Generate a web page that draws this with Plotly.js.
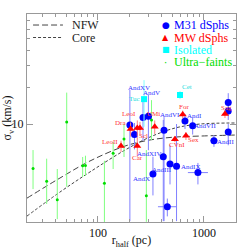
<!DOCTYPE html>
<html><head><meta charset="utf-8">
<script src="https://cdn.plot.ly/plotly-3.0.1.min.js"></script>
<style>html,body{margin:0;padding:0;background:#fff}#chart{width:249px;height:249px}</style>
</head><body><div id="chart"></div>
<script>
// ---- data ----
const curveR = [21.4, 43.8, 84.1, 180, 309, 532, 916, 2005];
const nfwSigma = [2.47, 3.61, 4.98, 6.6, 7.40, 7.82, 7.97, 8.13];
const coreSigma = [1.76, 2.77, 4.05, 6.12, 7.82, 9.27, 10.0, 10.2];

const m31Names = ['AndXV','','','AndV','AndVI','AndI','AndVII','AndII','','','','AndXIV','AndIII','AndIX','AndX','',''];
const m31R     = [200, 221, 266, 299, 420, 662, 782, 1242, 1694, 1694, 1694, 413, 478, 551, 330, 877, 451];
const m31Sigma = [9.8, 8.2, 11.3, 11.6, 8.9, 10.6, 9.7, 7.3, 15.0, 12.8, 8.6, 5.4, 4.7, 4.5, 3.9, 4.0, 2.1];
const m31ErrUp = [9.2, 2.0, 5.0, 5.7, 2.5, 1.5, 1.6, 0.8, 2.9, 2.0, 1.4, 5.4, 2.0, 5.5, 1.5, 0.8, 0.35];
const m31ErrDn = [8.2, 2.0, 4.0, 5.5, 7.3, 1.5, 1.5, 0.8, 2.2, 2.0, 1.9, 3.8, 1.5, 2.9, 1.3, 0.8, 0.35];
const m31RErrUp = [0, 0, 0, 0, 0, 0, 0, 100, 0, 0, 0, 0, 0, 0, 0, 213, 105];
const m31RErrDn = [0, 0, 0, 0, 0, 0, 0, 100, 0, 0, 0, 0, 0, 0, 0, 172, 83];

const mwNames = ['LeoII','Dra','LeoI','Scl','UMi','Car','CVnI','Sex','For','Sag'];
const mwR     = [165, 203, 235, 249, 343, 235, 532, 676, 630, 1578];
const mwSigma = [6.6, 9.1, 9.3, 9.3, 9.5, 6.6, 7.5, 8.0, 12.0, 12.1];
const mwErr   = [0.7, 1.2, 1.4, 1.1, 1.2, 1.2, 0.4, 0.6, 0.9, 0.9];

const isoNames = ['Tuc','Cet'];
const isoR     = [272, 594];
const isoSigma = [16.0, 17.3];
const isoErrUp = [6.9, 1.3];
const isoErrDn = [6.5, 1.3];

const ufR     = [24.4, 32.8, 41.3, 50.7, 71.7, 76.2, 115, 139, 176, 320, 286];
const ufSigma = [4.32, 3.39, 2.40, 10.4, 4.55, 4.57, 3.27, 5.75, 7.54, 10.8, 2.58];
const ufErrUp = [1.80, 1.81, 1.88, 7.7, 0.82, 0.93, 1.73, 1.36, 2.46, 4.9, 3.54];
const ufErrDn = [1.39, 1.18, 0.74, 7.34, 0.87, 0.80, 1.70, 1.47, 2.17, 3.41, 1.0];

const xTickVals = [100, 1000];
const yTickVals = [10];

// ---- styling / label offsets (px) ----
const FONT = 'Liberation Serif';
const labelShift = {
  AndXV:[9,-37], AndV:[3,-23], AndVI:[6,-15], AndI:[10,-5], AndVII:[12,0], AndII:[12,1],
  AndXIV:[-14,-3], AndIII:[-8,6], AndIX:[14,1], AndX:[-11,5],
  LeoII:[-11,-4], Dra:[-10,-6], LeoI:[-8,-14], Scl:[4,8], UMi:[-1,-13], Car:[0,12],
  CVnI:[2,6], Sex:[8,4], For:[1,-7], Sag:[2,-6],
  Tuc:[-10,0], Cet:[7,-8]
};

const minorVals = [];
[10, 100, 1000].forEach(d => { for (let k = 2; k <= 9; k++) minorVals.push(k * d); });

const traces = [
  {x: curveR, y: nfwSigma, mode:'lines', line:{color:'#444', width:1, dash:'6px,3px', shape:'spline'}, hoverinfo:'skip'},
  {x: curveR, y: coreSigma, mode:'lines', line:{color:'#444', width:1, dash:'3px,2px', shape:'spline'}, hoverinfo:'skip'},
  {x: ufR, y: ufSigma, mode:'markers', marker:{color:'#00dd00', size:3},
   error_y:{type:'data', array: ufErrUp, arrayminus: ufErrDn, color:'#80ff80', thickness:1, width:0}},
  {x: m31R, y: m31Sigma, mode:'markers', marker:{color:'#0000ff', size:7},
   error_y:{type:'data', array: m31ErrUp, arrayminus: m31ErrDn, color:'#8080ff', thickness:1, width:0},
   error_x:{type:'data', array: m31RErrUp, arrayminus: m31RErrDn, color:'#8080ff', thickness:1, width:0}},
  {x: mwR, y: mwSigma, mode:'markers', marker:{color:'#ff0000', size:7, symbol:'triangle-up'},
   error_y:{type:'data', array: mwErr, color:'#ff8080', thickness:1, width:0}},
  {x: isoR, y: isoSigma, mode:'markers', marker:{color:'#00ffff', size:6, symbol:'square'},
   error_y:{type:'data', array: isoErrUp, arrayminus: isoErrDn, color:'#80ffff', thickness:1, width:0}}
];

const annotations = [];
function addLabels(names, xs, ys, color) {
  names.forEach((n, i) => {
    if (!n) return;
    const s = labelShift[n] || [0, 0];
    annotations.push({x: Math.log10(xs[i]), y: Math.log10(ys[i]), xref:'x', yref:'y', text:n,
      showarrow:false, xshift:s[0], yshift:-s[1], font:{family:FONT, size:7, color:color}});
  });
}
addLabels(m31Names, m31R, m31Sigma, '#3333ff');
addLabels(mwNames, mwR, mwSigma, '#ff3333');
addLabels(isoNames, isoR, isoSigma, '#22dddd');

// legends (text and keys)
const legRight = [
  {glyph:'●', text:'M31 dSphs', color:'#0000ff', gsize:9},
  {glyph:'▲', text:'MW dSphs', color:'#ff0000', gsize:8},
  {glyph:'■', text:'Isolated', color:'#00ffff', gsize:8},
  {glyph:'·', text:'Ultra−faints', color:'#00dd00', gsize:10}
];
const rowY = [0.947, 0.887, 0.827, 0.767];
legRight.forEach((L, i) => {
  annotations.push({xref:'paper', yref:'paper', x:0.665, y:rowY[i], text:L.glyph, showarrow:false,
    xanchor:'center', yanchor:'middle', font:{family:'DejaVu Sans', size:L.gsize, color:L.color}});
  annotations.push({xref:'paper', yref:'paper', x:0.692, y:rowY[i], text:L.text, showarrow:false,
    xanchor:'left', yanchor:'middle', font:{family:FONT, size:12, color:L.color}});
});
const legLeft = [{text:'NFW', dash:'6px,3px'}, {text:'Core', dash:'3px,2px'}];
const shapes = [];
legLeft.forEach((L, i) => {
  shapes.push({type:'line', xref:'paper', yref:'paper', x0:0.029, x1:0.172, y0:rowY[i], y1:rowY[i],
    line:{color:'#444', width:1, dash:L.dash}});
  annotations.push({xref:'paper', yref:'paper', x:0.205, y:rowY[i], text:L.text, showarrow:false,
    xanchor:'left', yanchor:'middle', font:{family:FONT, size:12, color:'#222'}});
});

const axisCommon = {
  type:'log', showline:true, mirror:'allticks', linecolor:'#999', linewidth:1,
  ticks:'inside', ticklen:6, tickcolor:'#999', tickwidth:1, showgrid:false, zeroline:false,
  tickfont:{family:FONT, size:12, color:'#111'},
  minor:{ticks:'inside', ticklen:3, tickcolor:'#999', tickmode:'array', tickvals:minorVals, showgrid:false}
};

const layout = {
  width:249, height:249, margin:{l:27, r:13, t:14, b:27, pad:0},
  paper_bgcolor:'#fff', plot_bgcolor:'#fff', showlegend:false,
  xaxis: Object.assign({}, axisCommon, {range:[Math.log10(21.4), Math.log10(2005)],
    tickmode:'array', tickvals:xTickVals, ticktext:xTickVals.map(String),
    title:{text:'r<sub>half</sub> (pc)', font:{family:FONT, size:12, color:'#111'}, standoff:2}}),
  yaxis: Object.assign({}, axisCommon, {range:[0.197, 1.902],
    tickmode:'array', tickvals:yTickVals, ticktext:yTickVals.map(String),
    title:{text:'σ<sub>v</sub> (km/s)', font:{family:FONT, size:12, color:'#111'}, standoff:2}}),
  annotations: annotations, shapes: shapes
};

Plotly.newPlot('chart', traces, layout, {staticPlot:true, displayModeBar:false});
</script>
</body></html>
